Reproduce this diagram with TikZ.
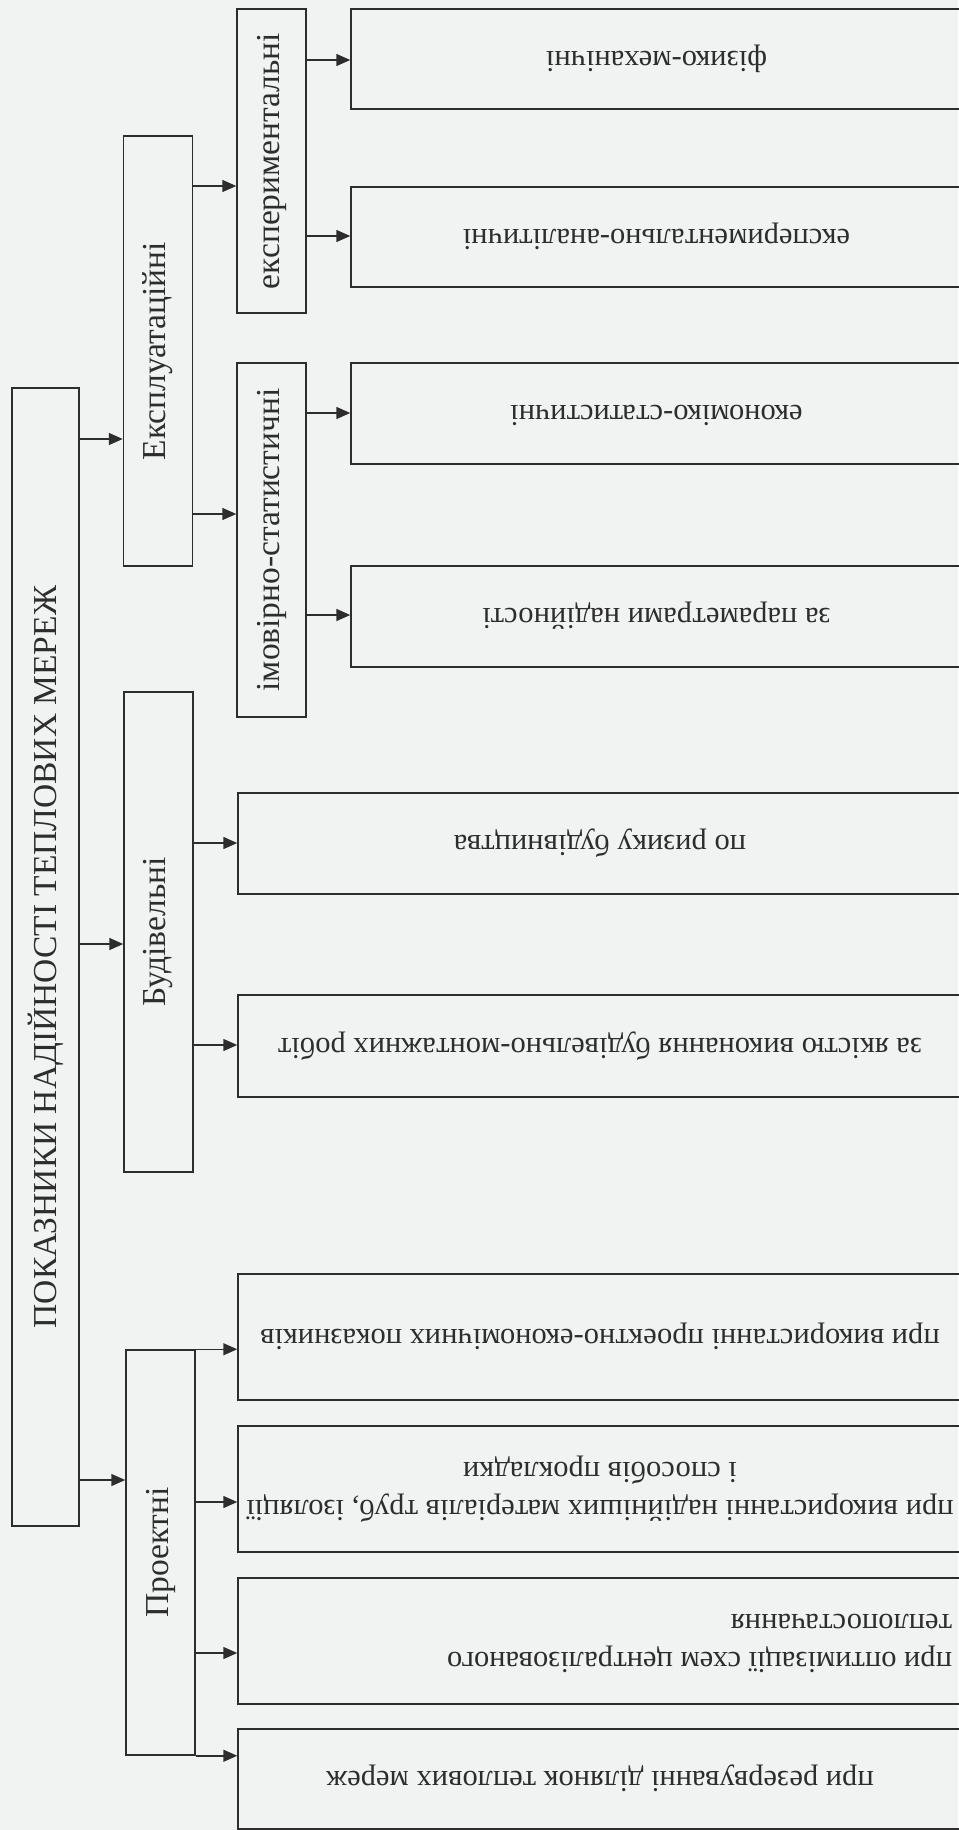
\documentclass[tikz,border=0pt]{standalone}
\usepackage{fontspec}
\setmainfont{Liberation Serif}
\usepackage{graphicx}
\usetikzlibrary{arrows.meta}
\definecolor{paper}{RGB}{241,243,243}
\definecolor{ink}{RGB}{45,45,45}

\begin{document}
\begin{tikzpicture}[x=1pt,y=-1pt]
\tikzset{
    box/.style={draw=ink, line width=1.5pt, inner sep=0pt, text=ink},
    root/.style={box, minimum width=67pt, minimum height=1138pt, font=\fontsize{33.5}{40}\selectfont},
    mid/.style={box, minimum width=69pt, font=\fontsize{33.5}{40}\selectfont},
    leafA/.style={box, minimum width=611pt, font=\fontsize{30.5}{38}\selectfont},
    leafB/.style={box, minimum width=724pt, font=\fontsize{30.5}{38}\selectfont},
    arr/.style={draw=ink, line width=1.5pt, -{Triangle[length=14pt,width=12pt]}},
}
\def\up#1{\rotatebox{90}{#1}}
\def\down#1{\rotatebox{180}{\begin{tabular}{@{}c@{}}#1\end{tabular}}}

% Paper and page size.
\fill[paper] (0,0) rectangle (958,1830);
\useasboundingbox (0,0) rectangle (958,1830);

% Root and the three groups.
\node[root] (root) at (45.5,957) {\up{ПОКАЗНИКИ НАДІЙНОСТІ ТЕПЛОВИХ МЕРЕЖ}};
\node[mid, minimum height=430pt] (expl) at (158,351)    {\up{Експлуатаційні}};
\node[mid, minimum height=480pt] (bud)  at (158.5,932)  {\up{Будівельні}};
\node[mid, minimum height=405pt] (proj) at (160.5,1552.5) {\up{Проектні}};

% Second level under the exploitation group.
\node[mid, minimum height=304pt] (expt) at (271.5,161) {\up{експериментальні}};
\node[mid, minimum height=354pt] (imov) at (271.5,540) {\up{імовірно-статистичні}};

% Leaves, text upside down as in the book.
\node[leafA, minimum height=100pt] (fiz)  at (656.5,59)    {\down{фізико-механічні}};
\node[leafA, minimum height=100pt] (ekan) at (656.5,237)   {\down{експериментально-аналітичні}};
\node[leafA, minimum height=101pt] (ekst) at (656.5,413.5) {\down{економіко-статистичні}};
\node[leafA, minimum height=101pt] (par)  at (656.5,616.5) {\down{за параметрами надійності}};
\node[leafB, minimum height=101pt] (ryz)  at (600,843.5)   {\down{по ризику будівництва}};
\node[leafB, minimum height=102pt] (yak)  at (600,1046)    {\down{за якістю виконання будівельно-монтажних робіт}};
\node[leafB, minimum height=126pt] (pek)  at (600,1337)    {\down{при використанні проектно-економічних показників}};
\node[leafB, minimum height=126pt] (mat)  at (600,1489)    {\down{при використанні надійніших матеріалів труб, ізоляції\\і способів прокладки}};
\node[leafB, minimum height=126pt] (opt)  at (600,1641)    {\rotatebox{180}{\makebox[704pt][l]{\begin{tabular}{@{}l@{}}при оптимізації схем централізованого\\теплопостачання\end{tabular}}}};
\node[leafB, minimum height=100pt] (rez)  at (600,1779)    {\down{при резервуванні ділянок теплових мереж}};

% Arrows from the root.
\draw[arr] (root.east |- 0,439)  -- (expl.west |- 0,439);
\draw[arr] (root.east |- 0,944)  -- (bud.west |- 0,944);
\draw[arr] (root.east |- 0,1480) -- (proj.west |- 0,1480);

% Arrows of the exploitation group.
\draw[arr] (expl.east |- 0,186) -- (expt.west |- 0,186);
\draw[arr] (expl.east |- 0,514) -- (imov.west |- 0,514);
\draw[arr] (expt.east |- 0,60)  -- (fiz.west |- 0,60);
\draw[arr] (expt.east |- 0,236) -- (ekan.west |- 0,236);
\draw[arr] (imov.east |- 0,413) -- (ekst.west |- 0,413);
\draw[arr] (imov.east |- 0,615) -- (par.west |- 0,615);

% Arrows of the building group.
\draw[arr] (bud.east |- 0,843)  -- (ryz.west |- 0,843);
\draw[arr] (bud.east |- 0,1045) -- (yak.west |- 0,1045);

% Arrows of the design group.
\draw[arr] (proj.north east)    -- (proj.north east -| pek.west);
\draw[arr] (proj.east |- 0,1502) -- (mat.west |- 0,1502);
\draw[arr] (proj.east |- 0,1653) -- (opt.west |- 0,1653);
\draw[arr] (proj.south east)    -- (proj.south east -| rez.west);
\end{tikzpicture}
\end{document}
